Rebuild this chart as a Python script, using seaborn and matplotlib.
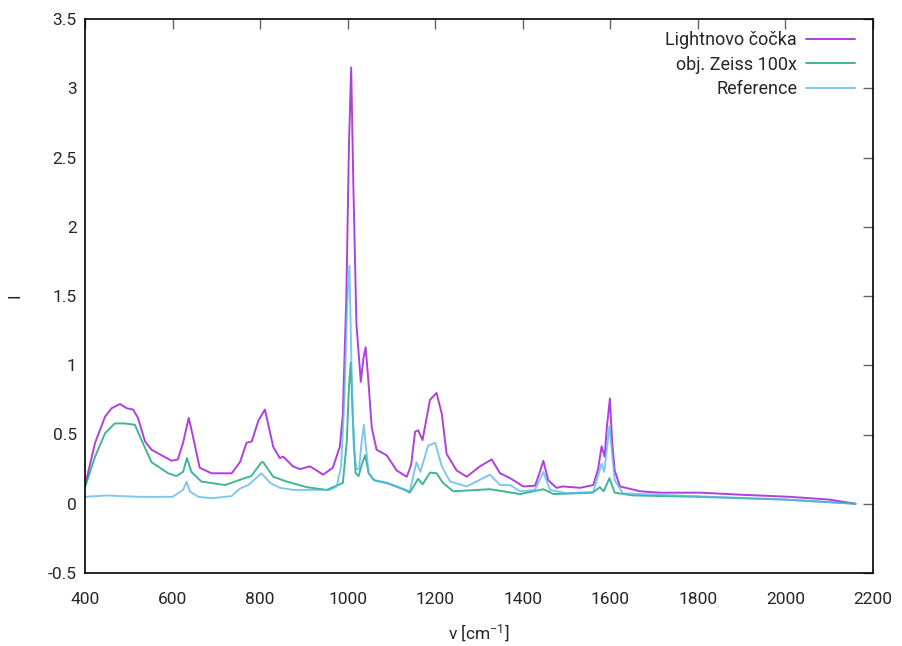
import numpy as np
import pandas as pd
import matplotlib
matplotlib.use("Agg")
import matplotlib.pyplot as plt
import seaborn as sns
from matplotlib.ticker import FormatStrFormatter, MultipleLocator

# Raman spectra (wavenumber in cm^-1, intensity)
x_light = [400, 423, 446, 461, 480, 495, 510, 521, 537, 552, 575, 598, 612, 624, 637, 647, 662,
           689, 735, 754, 769, 781, 796, 811, 830, 845, 853, 875, 891, 914, 944, 966, 982, 989,
           997, 1003, 1008, 1013, 1020, 1030, 1036, 1041, 1047, 1055, 1066, 1089, 1112, 1135,
           1145, 1154, 1161, 1171, 1188, 1203, 1215, 1226, 1249, 1272, 1302, 1329, 1348, 1371,
           1401, 1428, 1438, 1447, 1458, 1477, 1492, 1531, 1561, 1572, 1580, 1587, 1592, 1599,
           1604, 1610, 1622, 1668, 1713, 1805, 1900, 2010, 2100, 2160]
y_light = [0.13, 0.44, 0.63, 0.69, 0.72, 0.69, 0.68, 0.62, 0.45, 0.39, 0.35, 0.31, 0.32, 0.44,
           0.62, 0.48, 0.26, 0.22, 0.22, 0.30, 0.44, 0.45, 0.60, 0.68, 0.41, 0.33, 0.34, 0.27,
           0.25, 0.27, 0.21, 0.26, 0.41, 0.65, 1.50, 2.60, 3.15, 2.30, 1.30, 0.88, 1.05, 1.13,
           0.90, 0.55, 0.39, 0.35, 0.24, 0.195, 0.28, 0.52, 0.53, 0.46, 0.75, 0.80, 0.65, 0.36,
           0.24, 0.195, 0.27, 0.32, 0.22, 0.185, 0.125, 0.13, 0.22, 0.31, 0.17, 0.115, 0.125,
           0.115, 0.135, 0.25, 0.415, 0.34, 0.55, 0.76, 0.45, 0.24, 0.125, 0.09, 0.08, 0.08,
           0.065, 0.05, 0.03, 0.00]

x_zeiss = [400, 423, 446, 468, 490, 514, 529, 552, 590, 609, 624, 633, 643, 666, 720, 765, 780,
           803, 807, 830, 861, 906, 952, 989, 998, 1003, 1007, 1012, 1018, 1025, 1032, 1040,
           1048, 1060, 1090, 1130, 1142, 1161, 1171, 1188, 1203, 1218, 1241, 1325, 1394, 1447,
           1470, 1560, 1576, 1585, 1598, 1610, 1652, 1800, 2000, 2160]
y_zeiss = [0.12, 0.34, 0.51, 0.58, 0.58, 0.57, 0.46, 0.30, 0.22, 0.20, 0.23, 0.33, 0.23, 0.16,
           0.135, 0.185, 0.20, 0.30, 0.30, 0.195, 0.16, 0.12, 0.10, 0.15, 0.45, 0.85, 1.02, 0.60,
           0.22, 0.20, 0.28, 0.35, 0.22, 0.17, 0.15, 0.10, 0.08, 0.18, 0.14, 0.225, 0.22, 0.15,
           0.09, 0.105, 0.07, 0.105, 0.07, 0.08, 0.12, 0.09, 0.185, 0.08, 0.06, 0.05, 0.03, 0.00]

x_ref = [400, 450, 520, 600, 624, 632, 640, 659, 689, 735, 754, 773, 803, 823, 845, 875, 921, 960,
         975, 985, 993, 999, 1004, 1009, 1014, 1020, 1026, 1032, 1037, 1042, 1048, 1060, 1100,
         1142, 1157, 1166, 1184, 1200, 1215, 1234, 1272, 1325, 1348, 1371, 1394, 1428, 1447,
         1462, 1500, 1561, 1580, 1586, 1598, 1610, 1629, 1750, 2000, 2160]
y_ref = [0.05, 0.06, 0.05, 0.05, 0.10, 0.16, 0.087, 0.05, 0.04, 0.055, 0.11, 0.135, 0.22, 0.15,
         0.115, 0.10, 0.10, 0.10, 0.125, 0.27, 0.80, 1.45, 1.72, 0.95, 0.40, 0.25, 0.25, 0.45,
         0.57, 0.40, 0.22, 0.17, 0.14, 0.09, 0.30, 0.23, 0.42, 0.44, 0.27, 0.16, 0.125, 0.21,
         0.135, 0.135, 0.09, 0.10, 0.23, 0.10, 0.075, 0.085, 0.29, 0.23, 0.56, 0.17, 0.075,
         0.06, 0.03, 0.00]

labels = ["Lightnovo čočka", "obj. Zeiss 100x", "Reference"]
colors = ["#9400D3", "#009E73", "#56B4E9"]

df = pd.concat([
    pd.DataFrame({"x": x_light, "y": y_light, "s": labels[0]}),
    pd.DataFrame({"x": x_zeiss, "y": y_zeiss, "s": labels[1]}),
    pd.DataFrame({"x": x_ref, "y": y_ref, "s": labels[2]}),
])

sns.set_style("white")
plt.rcParams["font.family"] = ["Roboto", "DejaVu Sans"]
plt.rcParams["mathtext.default"] = "regular"

fig = plt.figure(figsize=(9.02, 6.46), dpi=100)
# plot box in pixels: left 85, right 873, top 19, bottom 573
ax = fig.add_axes([85 / 902, 1 - 573 / 646, 788 / 902, 554 / 646])

sns.lineplot(data=df, x="x", y="y", hue="s", palette=colors, linewidth=1.4,
             alpha=0.75, sort=False, estimator=None, ax=ax)

ax.set_xlim(400, 2200)
ax.set_ylim(-0.5, 3.5)
ax.xaxis.set_major_locator(MultipleLocator(200))
ax.yaxis.set_major_locator(MultipleLocator(0.5))
ax.yaxis.set_major_formatter(FormatStrFormatter("%g"))
ax.tick_params(direction="in", length=7, width=1, color="#666666",
               top=True, right=True, labelsize=12.5)
ax.tick_params(axis="x", pad=14)
ax.tick_params(axis="y", pad=6)
for sp in ax.spines.values():
    sp.set_color("black")
    sp.set_linewidth(1.2)

ax.set_xlabel("v [cm$^{-1}$]", fontsize=12.5)
ax.set_ylabel("I", fontsize=12.5)
ax.xaxis.set_label_coords(0.5, (573 - 633) / 554)
ax.xaxis.label.set_va("center")
ax.yaxis.set_label_coords((15 - 85) / 788, 0.5)
ax.yaxis.label.set_va("center")

ax.legend(loc="upper right", bbox_to_anchor=((862 - 85) / 788, (573 - 24) / 554),
          frameon=False, markerfirst=False, fontsize=13, borderaxespad=0,
          handlelength=2.7, handletextpad=0.5, labelspacing=0.35)

fig.savefig("out.png", dpi=100)
